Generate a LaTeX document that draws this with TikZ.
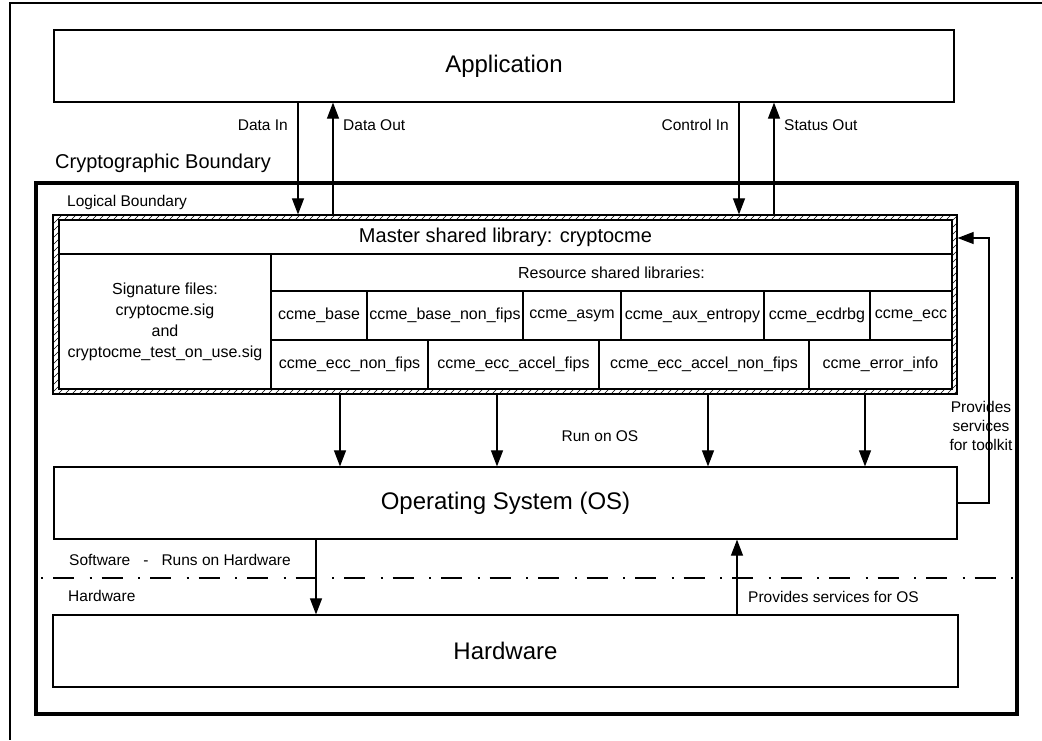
\documentclass[tikz,border=0pt]{standalone}
\usepackage{fontspec}
\setmainfont{Liberation Sans}
\usetikzlibrary{arrows.meta}
\tikzset{
  box/.style={draw, line width=1.2pt, inner sep=0pt, align=center},
  bigtxt/.style={font=\fontsize{24}{28}\selectfont},
  midtxt/.style={font=\fontsize{20}{24}\selectfont},
  celltxt/.style={font=\fontsize{16}{20}\selectfont},
  lbl/.style={inner sep=0pt, align=center, font=\fontsize{15.5}{19}\selectfont},
  arr/.style={line width=1.1pt, -{Triangle[length=16pt,width=12pt]}},
  thin/.style={line width=1.2pt},
}
\newcommand\mkbox[7]{\node[#1, minimum width={(#5-#3)*1pt}, minimum height={(#6-#4)*1pt}] (#2) at ({(#3+#5)/2},{(#4+#6)/2}) {#7};}
\begin{document}
\begin{tikzpicture}[x=1pt,y=-1pt]
\useasboundingbox (0,0) rectangle (1042,740);
% outer frame (cropped)
\draw[thin] (1042,3) -- (10,3) -- (10,740);
% application
\mkbox{box,bigtxt}{app}{54}{30}{954}{102}{Application}
% cryptographic boundary
\node[draw, line width=3.6pt, inner sep=0pt, minimum width=981pt, minimum height=531pt] (cb) at (526.5,448.5) {};
\node[lbl, midtxt, anchor=west] (cbl) at (55,163) {Cryptographic Boundary};
\node[lbl, anchor=west] (lbl) at (67,202) {Logical Boundary};
% logical boundary hatched band
\begin{scope}[even odd rule]
\clip (53,215) rectangle (957,394) (59,220) rectangle (952,389);
\foreach \x in {-180,-173,...,960} \draw[line width=0.6pt] (\x,394) -- (\x+179,215);
\end{scope}
\mkbox{box}{lb}{53}{215}{957}{394}{}
\mkbox{box}{lbin}{59}{220}{952}{389}{}
% master
\mkbox{box,midtxt}{master}{59}{220}{952}{254}{Master shared library: cryptocme}
\mkbox{box,celltxt}{sig}{59}{254}{271}{389}{Signature files:\\[1pt]cryptocme.sig\\[1pt]and\\[1pt]cryptocme\_test\_on\_use.sig}
\mkbox{box,celltxt}{res}{271}{254}{952}{291}{Resource shared libraries:}
\mkbox{box,celltxt}{c1}{271}{291}{367}{340}{ccme\_base}
\mkbox{box,celltxt}{c2}{367}{291}{523}{340}{ccme\_base\_non\_fips}
\mkbox{box,celltxt}{c3}{523}{291}{621}{340}{ccme\_asym}
\mkbox{box,celltxt}{c4}{621}{291}{764}{340}{ccme\_aux\_entropy}
\mkbox{box,celltxt}{c5}{764}{291}{870}{340}{ccme\_ecdrbg}
\mkbox{box,celltxt}{c6}{870}{291}{952}{340}{ccme\_ecc}
\mkbox{box,celltxt}{d1}{271}{340}{428}{389}{ccme\_ecc\_non\_fips}
\mkbox{box,celltxt}{d2}{428}{340}{599}{389}{ccme\_ecc\_accel\_fips}
\mkbox{box,celltxt}{d3}{599}{340}{809}{389}{ccme\_ecc\_accel\_non\_fips}
\mkbox{box,celltxt}{d4}{809}{340}{952}{389}{ccme\_error\_info}
% OS and hardware
\mkbox{box,bigtxt}{os}{54}{467}{957}{539}{Operating System (OS)}
\mkbox{box,bigtxt}{hw}{53}{615}{958}{687}{Hardware}
% application arrows
\coordinate (xdi) at (298,0);
\coordinate (xdo) at (333,0);
\coordinate (xci) at (739,0);
\coordinate (xso) at (774,0);
\draw[arr] (xdi |- app.south) -- (xdi |- lb.north);
\draw[arr] (xdo |- lb.north) -- (xdo |- app.south);
\draw[arr] (xci |- app.south) -- (xci |- lb.north);
\draw[arr] (xso |- lb.north) -- (xso |- app.south);
\node[lbl, anchor=east] (ldi) at (288,125) {Data In};
\node[lbl, anchor=west] (ldo) at (343,125) {Data Out};
\node[lbl, anchor=east] (lci) at (729,125) {Control In};
\node[lbl, anchor=west] (lso) at (784,125) {Status Out};
% run on OS arrows
\foreach \xx/\nm in {340/r1,497/r2,708/r3,865/r4}{
  \coordinate (\nm) at (\xx,0);
  \draw[arr] (\nm |- lb.south) -- (\nm |- os.north);
}
\node[lbl] (lrun) at (600,436) {Run on OS};
% provides services for toolkit
\coordinate (tk) at (989,0);
\coordinate (tky) at (0,238);
\node[lbl] (ltk) at (981,426) {Provides\\services\\for toolkit};
\draw[arr] (os.east) -- (os.east -| tk) -- (tk |- tky) -- (lb.east |- tky);
% software/hardware separator
\coordinate (sepl) at (41,578);
\coordinate (sepr) at (1016,578);
\draw[line width=2pt, dash pattern=on 2pt off 10pt on 21pt off 15.5pt] (sepl) -- (sepr);
\node[lbl, anchor=west] (lsw) at (69,560) {Software\hspace{13pt}-\hspace{13pt}Runs on Hardware};
\node[lbl, anchor=west] (lhw) at (68,596) {Hardware};
% OS <-> hardware arrows
\coordinate (xrh) at (316,0);
\coordinate (xps) at (737,0);
\draw[arr] (xrh |- os.south) -- (xrh |- hw.north);
\draw[arr] (xps |- hw.north) -- (xps |- os.south);
\node[lbl, anchor=west] (lps) at (748,597) {Provides services for OS};
\end{tikzpicture}
\end{document}
